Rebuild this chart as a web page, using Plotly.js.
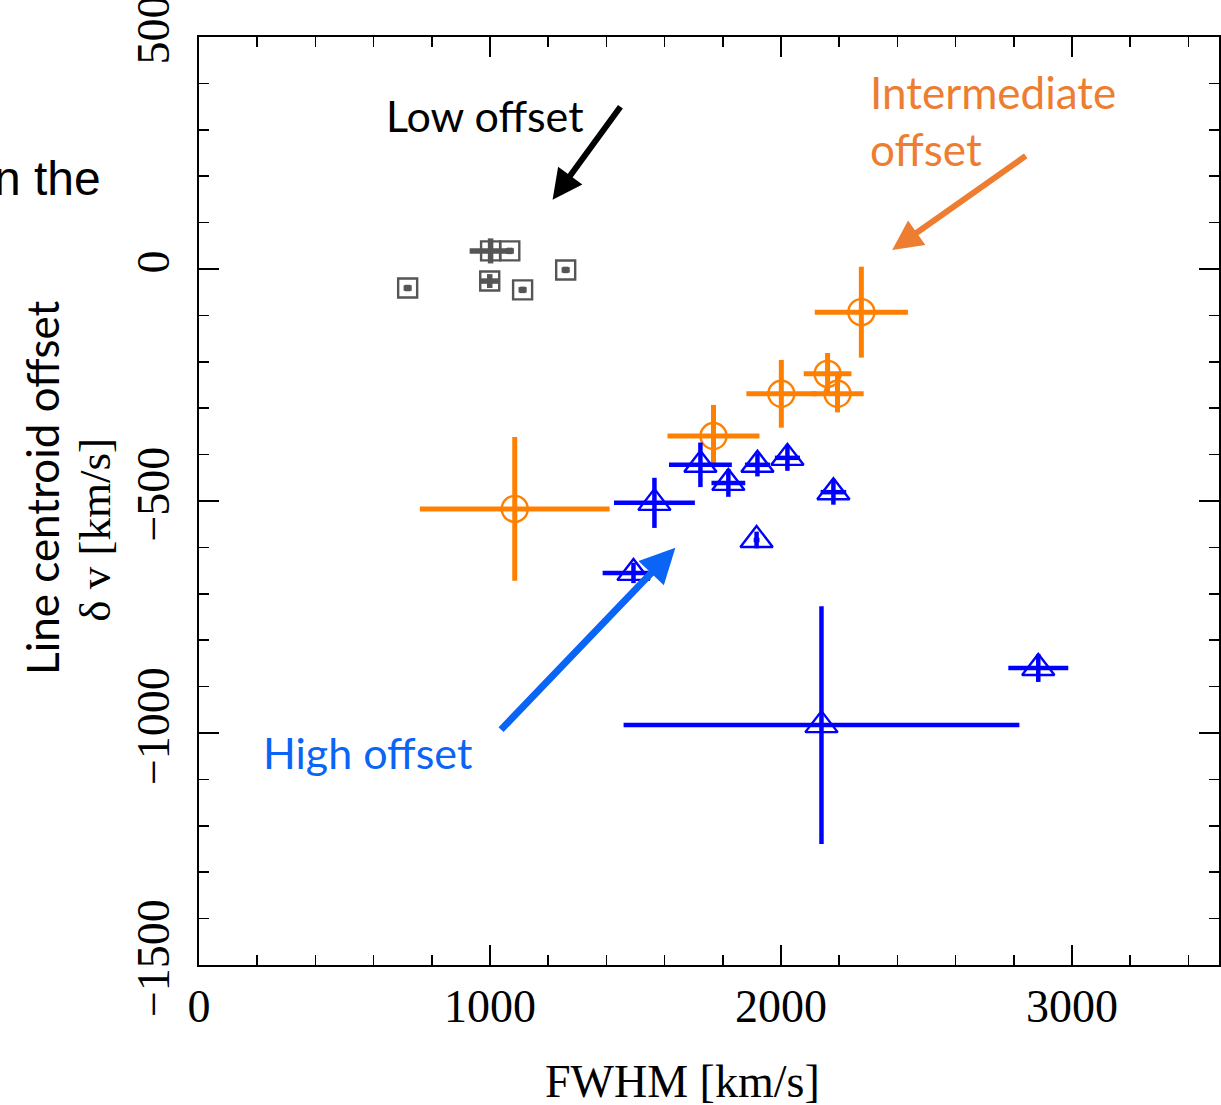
<!DOCTYPE html>
<html>
<head>
<meta charset="utf-8">
<script src="https://cdn.plot.ly/plotly-3.0.1.min.js"></script>
<style>html,body{margin:0;padding:0;background:#fff;}#chart{width:1221px;height:1105px;}</style>
</head>
<body>
<div id="chart"></div>
<script>
// Low offset (gray squares)
const lowX = [717, 1002, 1068, 999, 1112, 1260];
const lowY = [-41, 39, 39, -26, -45, -2];
const lowXerr = [14, 72, 14, 30, 14, 14];
const lowYerr = [7, 27, 7, 15, 7, 7];

// Intermediate offset (orange circles)
const midX = [1085, 1768, 2001, 2160, 2194, 2276];
const midY = [-517, -360, -269, -226, -269, -93];
const midXerr = [326, 158, 120, 82, 90, 160];
const midYerr = [155, 67, 73, 45, 40, 98];

// High offset (blue triangles)
const highX = [1565, 1723, 1819, 1919, 2022, 2180, 1916, 1493, 2139, 2884];
const highY = [-504, -422, -461, -422, -407, -481, -584, -655, -983, -860];
const highXerr = [139, 108, 58, 43, 43, 44, 10, 106, 680, 103];
const highYerr = [54, 48, 30, 25, 28, 27, 18, 22, 256, 30];

const xTickVals = [0, 1000, 2000, 3000];
const yTickVals = [-1500, -1000, -500, 0, 500];

function trace(x, y, xe, ye, color, symbol, size, thick) {
  return {
    type: 'scatter', mode: 'markers', x: x, y: y,
    error_x: {type: 'data', array: xe, visible: true, color: color, thickness: thick, width: 0},
    error_y: {type: 'data', array: ye, visible: true, color: color, thickness: thick, width: 0},
    marker: {symbol: symbol, size: size, color: color, line: {color: color, width: 2.4}},
    showlegend: false, hoverinfo: 'skip'
  };
}

const data = [
  trace(lowX, lowY, lowXerr, lowYerr, '#555555', 'square-open', 19, 5.5),
  trace(midX, midY, midXerr, midYerr, '#ff8000', 'circle-open', 26, 5),
  trace(highX, highY, highXerr, highYerr, '#0000ff', 'triangle-up-open', 28, 4.5)
];

const tickFont = {family: 'Liberation Serif, Times New Roman, serif', size: 46, color: '#000'};
const sans = 'Lato, Carlito, Calibri, sans-serif';

const layout = {
  width: 1221, height: 1105,
  margin: {l: 199, r: 2, t: 37, b: 140},
  paper_bgcolor: '#fff', plot_bgcolor: '#fff',
  xaxis: {
    range: [0, 3505], tickmode: 'array', tickvals: xTickVals,
    ticks: 'inside', ticklen: 20, tickwidth: 1.5, tickcolor: '#000',
    minor: {dtick: 200, tick0: 0, ticks: 'inside', ticklen: 10, tickwidth: 1.5, tickcolor: '#000', showgrid: false},
    showline: true, linecolor: '#000', linewidth: 2, mirror: 'ticks',
    showgrid: false, zeroline: false, tickfont: tickFont, ticklabeloverflow: 'allow'
  },
  yaxis: {
    range: [-1500, 500], tickmode: 'array', tickvals: yTickVals,
    ticks: 'inside', ticklen: 20, tickwidth: 1.5, tickcolor: '#000',
    minor: {dtick: 100, tick0: 0, ticks: 'inside', ticklen: 10, tickwidth: 1.5, tickcolor: '#000', showgrid: false},
    showline: true, linecolor: '#000', linewidth: 2, mirror: 'ticks',
    showgrid: false, zeroline: false, tickfont: tickFont, tickangle: -90,
    ticklabeloverflow: 'allow', ticklabelstandoff: 10
  },
  annotations: [
    {xref: 'paper', yref: 'paper', x: 0.4745, y: -0.125, text: 'FWHM [km/s]', showarrow: false,
     xanchor: 'center', yanchor: 'middle', font: tickFont},
    {xref: 'paper', yref: 'paper', x: -0.154, y: 0.514, text: 'Line centroid offset', textangle: -90,
     showarrow: false, xanchor: 'center', yanchor: 'middle', font: {family: sans, size: 44, color: '#000'}},
    {xref: 'paper', yref: 'paper', x: -0.102, y: 0.469, text: 'δ v [km/s]', textangle: -90,
     showarrow: false, xanchor: 'center', yanchor: 'middle', font: {family: 'Liberation Serif, serif', size: 45, color: '#000'}},
    {xref: 'paper', yref: 'paper', x: -0.094, y: 0.848, text: 'n the', showarrow: false,
     xanchor: 'right', yanchor: 'middle', font: {family: 'Liberation Sans, Arial, sans-serif', size: 48, color: '#000'}},
    // labels
    {xref: 'x', yref: 'y', x: 1330, y: 330, text: 'Low offset', showarrow: false, xanchor: 'right', yanchor: 'middle',
     font: {family: sans, size: 43, color: '#000'}},
    {xref: 'x', yref: 'y', x: 2300, y: 321, text: 'Intermediate<br>offset', showarrow: false, xanchor: 'left', yanchor: 'middle',
     align: 'left', font: {family: sans, size: 44, color: '#ed7d31'}},
    {xref: 'x', yref: 'y', x: 212, y: -1041, text: 'High offset', showarrow: false, xanchor: 'left', yanchor: 'middle',
     font: {family: sans, size: 43, color: '#0a64f5'}},
    // arrows
    {xref: 'x', yref: 'y', axref: 'x', ayref: 'y', x: 1215, y: 149, ax: 1452, ay: 353, text: '', showarrow: true,
     arrowhead: 2, arrowsize: 1, arrowwidth: 6, arrowcolor: '#000'},
    {xref: 'x', yref: 'y', axref: 'x', ayref: 'y', x: 2382, y: 41, ax: 2846, ay: 246, text: '', showarrow: true,
     arrowhead: 2, arrowsize: 1, arrowwidth: 6, arrowcolor: '#ed7d31'},
    {xref: 'x', yref: 'y', axref: 'x', ayref: 'y', x: 1637, y: -601, ax: 1033, ay: -996, text: '', showarrow: true,
     arrowhead: 2, arrowsize: 1, arrowwidth: 7, arrowcolor: '#0a64f5'}
  ]
};

Plotly.newPlot('chart', data, layout, {staticPlot: true, displayModeBar: false});
</script>
</body>
</html>
